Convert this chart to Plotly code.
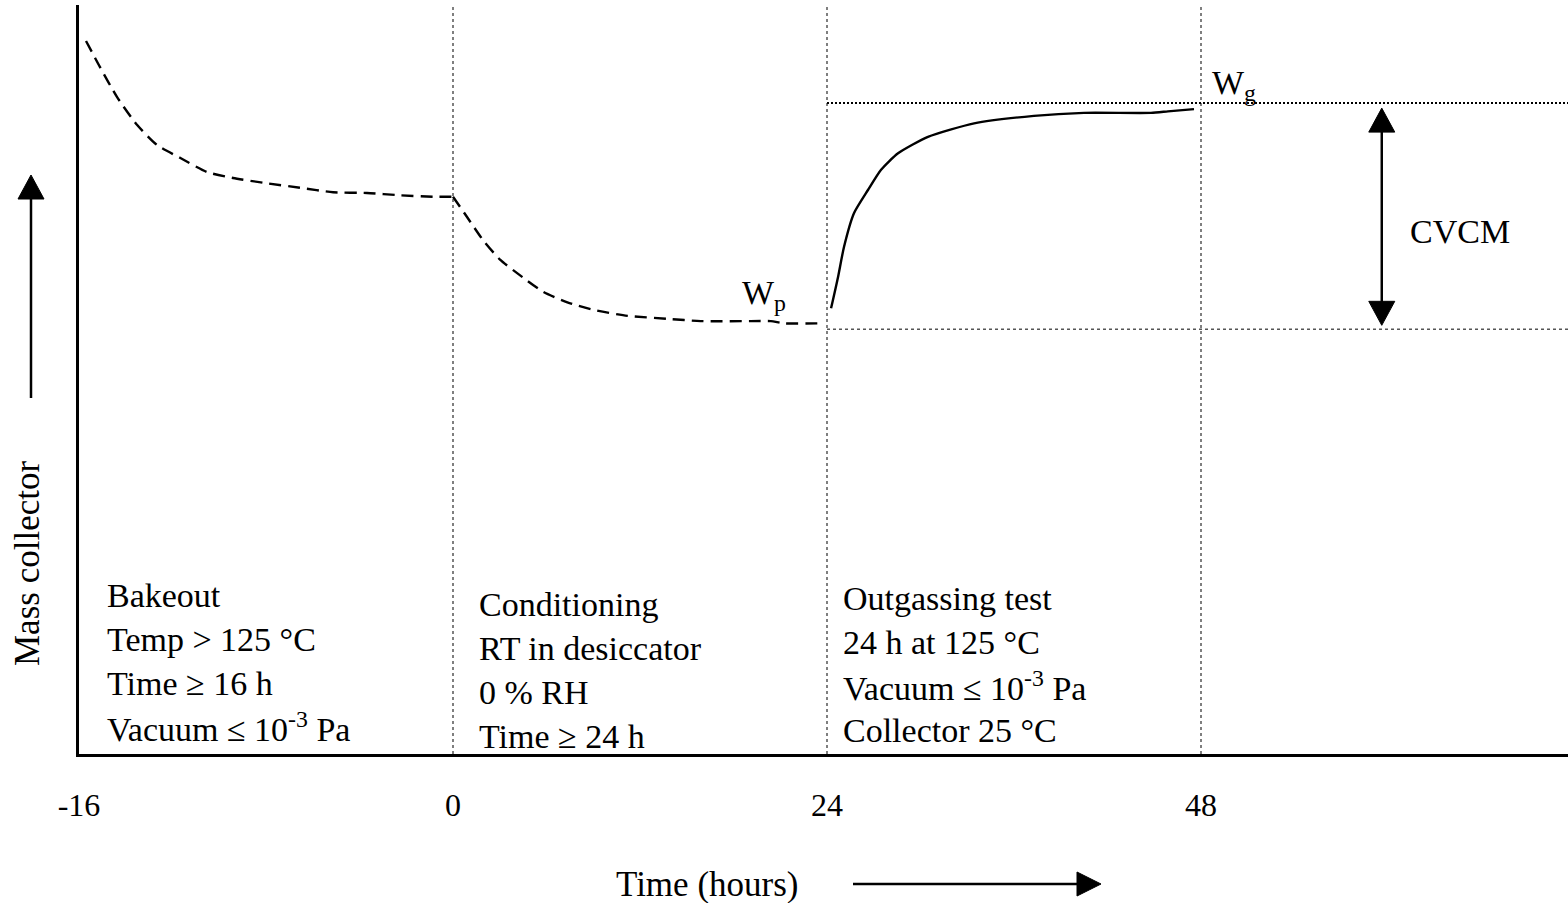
import plotly.graph_objects as go

# ---------------- data ----------------
# time in hours (schematic), relative mass of collector (arbitrary units)
bake_h = [-15.70, -15.10, -14.37, -13.52, -12.66, -11.68, -10.52, -9.41, -7.96, -6.55, -5.13, -3.68, -2.27, -0.86, 0.0]
bake_m = [95.2, 91.7, 87.7, 84.0, 81.3, 79.6, 77.7, 76.9, 76.2, 75.6, 75.0, 74.9, 74.6, 74.4, 74.4]
cond_h = [0.0, 0.90, 1.93, 3.02, 4.50, 5.79, 7.34, 9.01, 11.20, 13.77, 15.89, 19.11, 20.40, 21.23, 23.49]
cond_m = [74.4, 71.7, 68.6, 66.0, 63.6, 61.7, 60.3, 59.3, 58.5, 58.1, 57.8, 57.8, 57.8, 57.5, 57.5]
out_h = [24.26, 24.71, 25.09, 25.73, 26.63, 27.47, 28.56, 30.48, 33.44, 37.28, 40.49, 44.79, 45.88, 47.55]
out_m = [59.5, 63.7, 67.7, 72.2, 75.3, 78.0, 80.2, 82.4, 84.2, 85.2, 85.6, 85.6, 85.8, 86.1]

phase_bounds_h = [-16, 0, 24, 48]
tick_text = ["-16", "0", "24", "48"]
W_p = 56.7
W_g = 86.9
cvcm_h = 59.6

bake_lines = ["Bakeout", "Temp > 125 °C", "Time ≥ 16 h", "Vacuum ≤ 10<sup>-3</sup> Pa"]
cond_lines = ["Conditioning", "RT in desiccator", "0 % RH", "Time ≥ 24 h"]
out_lines = ["Outgassing test", "24 h at 125 °C", "Vacuum ≤ 10<sup>-3</sup> Pa", "Collector 25 °C"]

# ---------------- layout helpers ----------------
W, H = 1568, 903
ML, MR, MT, MB = 79, 0, 5, 149
PW, PH = W - ML - MR, H - MT - MB
FONT = "Liberation Serif, Times New Roman, serif"


def pos(h):
    """Schematic x position: each phase occupies one unit."""
    if h <= 0:
        return (h + 16) / 16
    if h <= 24:
        return 1 + h / 24
    return 2 + (h - 24) / 24


def px(x):
    return (x - ML) / PW


def py(y):
    return (H - MB - y) / PH


x_max = PW / 374.0

fig = go.Figure()

dash = "12px,7px"
fig.add_trace(go.Scatter(x=[pos(h) for h in bake_h], y=bake_m, mode="lines",
                         line=dict(color="black", width=2.4, dash=dash, shape="spline", smoothing=0.6),
                         hoverinfo="skip", showlegend=False))
fig.add_trace(go.Scatter(x=[pos(h) for h in cond_h], y=cond_m, mode="lines",
                         line=dict(color="black", width=2.4, dash=dash, shape="spline", smoothing=0.6),
                         hoverinfo="skip", showlegend=False))
fig.add_trace(go.Scatter(x=[pos(h) for h in out_h], y=out_m, mode="lines",
                         line=dict(color="black", width=2.4, shape="spline", smoothing=0.6),
                         hoverinfo="skip", showlegend=False))

shapes = []
# vertical dotted phase boundaries
for h in phase_bounds_h[1:]:
    shapes.append(dict(type="line", xref="x", yref="paper", x0=pos(h), x1=pos(h), y0=0, y1=1,
                       line=dict(color="#555555", width=1.5, dash="dot"), layer="below"))
# horizontal dotted reference lines
shapes.append(dict(type="line", xref="x", yref="y", x0=pos(24), x1=x_max, y0=W_g, y1=W_g,
                   line=dict(color="black", width=2, dash="2px,2px"), layer="below"))
shapes.append(dict(type="line", xref="x", yref="y", x0=pos(24), x1=x_max, y0=W_p, y1=W_p,
                   line=dict(color="#555555", width=1.5, dash="dot"), layer="below"))

# CVCM double arrow
xa = pos(cvcm_h)
shapes.append(dict(type="line", xref="x", yref="y", x0=xa, x1=xa, y0=W_p + 1.0, y1=W_g - 1.0,
                   line=dict(color="black", width=2.5)))
shapes.append(dict(type="path", xref="x", yref="y", xsizemode="pixel", ysizemode="pixel",
                   xanchor=xa, yanchor=W_g, path="M -13,-29 L 13,-29 L 0,-5 Z",
                   fillcolor="black", line=dict(color="black", width=1)))
shapes.append(dict(type="path", xref="x", yref="y", xsizemode="pixel", ysizemode="pixel",
                   xanchor=xa, yanchor=W_p, path="M -13,28 L 13,28 L 0,4 Z",
                   fillcolor="black", line=dict(color="black", width=1)))

# y-axis direction arrow
shapes.append(dict(type="line", xref="paper", yref="paper", x0=px(31), x1=px(31), y0=py(398), y1=py(196),
                   line=dict(color="black", width=2.5)))
shapes.append(dict(type="path", xref="paper", yref="paper",
                   path=f"M {px(18)},{py(199)} L {px(44)},{py(199)} L {px(31)},{py(175)} Z",
                   fillcolor="black", line=dict(color="black", width=1)))
# x-axis direction arrow
shapes.append(dict(type="line", xref="paper", yref="paper", x0=px(853), x1=px(1080), y0=py(884), y1=py(884),
                   line=dict(color="black", width=2.5)))
shapes.append(dict(type="path", xref="paper", yref="paper",
                   path=f"M {px(1077)},{py(872)} L {px(1077)},{py(896)} L {px(1101)},{py(884)} Z",
                   fillcolor="black", line=dict(color="black", width=1)))

annotations = []


def add_text(text, x, y, size=34, xanchor="left", textangle=0):
    annotations.append(dict(text=text, x=px(x), y=py(y), xref="paper", yref="paper",
                            xanchor=xanchor, yanchor="middle", showarrow=False,
                            textangle=textangle,
                            font=dict(family=FONT, size=size, color="black")))


for i, t in enumerate(bake_lines):
    add_text(t, 105, 595 + 44 * i)
for i, t in enumerate(cond_lines):
    add_text(t, 477, 604 + 44.3 * i)
for i, t in enumerate(out_lines):
    add_text(t, 841, 598 + 44 * i)

add_text("W<sub>p</sub>", 740, 295)
add_text("W<sub>g</sub>", 1210, 85)
add_text("CVCM", 1408, 232)
add_text("Time (hours)", 707, 884, size=35, xanchor="center")
add_text("Mass collector", 27, 564, size=35, xanchor="center", textangle=-90)

fig.update_layout(
    width=W, height=H,
    margin=dict(l=ML, r=MR, t=MT, b=MB, pad=0),
    paper_bgcolor="white", plot_bgcolor="white",
    shapes=shapes, annotations=annotations,
    xaxis=dict(range=[0, x_max], showgrid=False, zeroline=False, showline=True,
               linecolor="black", linewidth=3, ticks="",
               tickvals=[pos(h) for h in phase_bounds_h], ticktext=tick_text,
               tickfont=dict(family=FONT, size=32, color="black"),
               ticklabelstandoff=21, fixedrange=True),
    yaxis=dict(range=[0, 100], showgrid=False, zeroline=False, showline=True,
               linecolor="black", linewidth=3, showticklabels=False, ticks="",
               fixedrange=True),
    showlegend=False,
)

fig.write_html("out.html")
